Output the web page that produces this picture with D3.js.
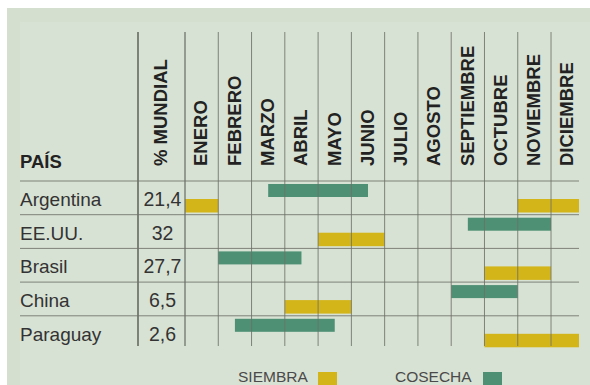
<!DOCTYPE html>
<html>
<head>
<meta charset="utf-8">
<script src="https://cdn.jsdelivr.net/npm/d3@7"></script>
<style>
  html, body { margin: 0; padding: 0; background: #ffffff; }
  svg { display: block; font-family: "Liberation Sans", Arial, sans-serif; }
</style>
</head>
<body>
<svg id="chart" width="590" height="385"></svg>
<script>
// ---- data ----
const countries = ["Argentina", "EE.UU.", "Brasil", "China", "Paraguay"];
const worldShare = ["21,4", "32", "27,7", "6,5", "2,6"];
const months = ["ENERO", "FEBRERO", "MARZO", "ABRIL", "MAYO", "JUNIO", "JULIO",
                "AGOSTO", "SEPTIEMBRE", "OCTUBRE", "NOVIEMBRE", "DICIEMBRE"];
// [country, start month index, end month index] (0 = start of January)
const siembra = [
  ["Argentina", 0, 1], ["Argentina", 10, 12],
  ["EE.UU.", 4, 6],
  ["Brasil", 9, 11],
  ["China", 3, 5],
  ["Paraguay", 9, 12]
];
const cosecha = [
  ["Argentina", 2.5, 5.5],
  ["EE.UU.", 8.5, 11],
  ["Brasil", 1, 3.5],
  ["China", 8, 10],
  ["Paraguay", 1.5, 4.5]
];
const legendLabels = ["SIEMBRA", "COSECHA"];

// ---- styles ----
const colSiembra = "#d3b519";
const colCosecha = "#4d9074";
const lineCol = "#6e7268";

const svg = d3.select("#chart");

// background panel
svg.append("rect").attr("x", 7).attr("y", 8).attr("width", 583).attr("height", 377)
  .attr("fill", "#d4dfcf");
svg.append("rect").attr("x", 20).attr("y", 22).attr("width", 570).attr("height", 363)
  .attr("fill", "#d8e2d4");

// scales
const x = d3.scaleLinear().domain([0, 12]).range([185, 584.3]);
const tableLeft = 20, tableRight = 579, shareLeft = 138;
const y = d3.scaleBand().domain(countries).range([181, 349.5]).paddingInner(0).paddingOuter(0);
const rowH = y.bandwidth();
const lineTop = 32, lineBottom = 346;

const g = svg.append("g");

// bars (drawn before grid lines so lines appear over them)
function drawBars(data, color, offset, h) {
  g.selectAll(null).data(data).enter().append("rect")
    .attr("x", d => x(d[1]))
    .attr("y", d => y(d[0]) + offset)
    .attr("width", d => Math.min(x(d[2]), tableRight) - x(d[1]))
    .attr("height", h)
    .attr("fill", color);
}
drawBars(cosecha, colCosecha, 3, 13);
drawBars(siembra, colSiembra, 18, 13.5);

// horizontal lines: header bottom and row separators
const hLines = [y.range()[0]].concat(countries.slice(1).map(c => y(c)));
g.selectAll(null).data(hLines).enter().append("line")
  .attr("x1", tableLeft).attr("x2", tableRight)
  .attr("y1", d => d).attr("y2", d => d)
  .attr("stroke", lineCol).attr("stroke-width", 1).attr("opacity", 0.85);

// vertical lines
g.append("line").attr("x1", shareLeft).attr("x2", shareLeft)
  .attr("y1", lineTop).attr("y2", lineBottom)
  .attr("stroke", lineCol).attr("stroke-width", 2).attr("opacity", 0.85);
g.selectAll(null).data(d3.range(0, 12)).enter().append("line")
  .attr("x1", d => x(d)).attr("x2", d => x(d))
  .attr("y1", lineTop).attr("y2", lineBottom)
  .attr("stroke", lineCol).attr("stroke-width", d => d === 0 ? 1.5 : 1).attr("opacity", 0.85);

// header texts
g.append("text").attr("x", 20).attr("y", 168)
  .attr("font-size", 18.5).attr("font-weight", "bold").attr("fill", "#222")
  .text("PAÍS");

function vText(cx, label) {
  g.append("text")
    .attr("transform", `translate(${cx + 6.8},166) rotate(-90)`)
    .attr("font-size", 18.5).attr("font-weight", "bold").attr("fill", "#222")
    .text(label);
}
vText((shareLeft + x(0)) / 2 - 1.5, "% MUNDIAL");
months.forEach((m, i) => vText(x(i + 0.5) - 1, m));

// row labels
g.selectAll(null).data(countries).enter().append("text")
  .attr("x", 20).attr("y", d => y(d) + rowH / 2 + 8)
  .attr("font-size", 19).attr("fill", "#333")
  .text(d => d);
g.selectAll(null).data(countries).enter().append("text")
  .attr("x", (shareLeft + x(0)) / 2 + 1).attr("y", d => y(d) + rowH / 2 + 8)
  .attr("text-anchor", "middle")
  .attr("font-size", 19.5).attr("fill", "#333")
  .text((d, i) => worldShare[i]);

// legend
const legend = [
  { label: legendLabels[0], color: colSiembra, tx: 238, sx: 318 },
  { label: legendLabels[1], color: colCosecha, tx: 395, sx: 483 }
];
legend.forEach(l => {
  svg.append("text").attr("x", l.tx).attr("y", 382)
    .attr("font-size", 15.5).attr("fill", "#4a4a4a")
    .text(l.label);
  svg.append("rect").attr("x", l.sx).attr("y", 372).attr("width", 19).attr("height", 13)
    .attr("fill", l.color);
});
</script>
</body>
</html>
